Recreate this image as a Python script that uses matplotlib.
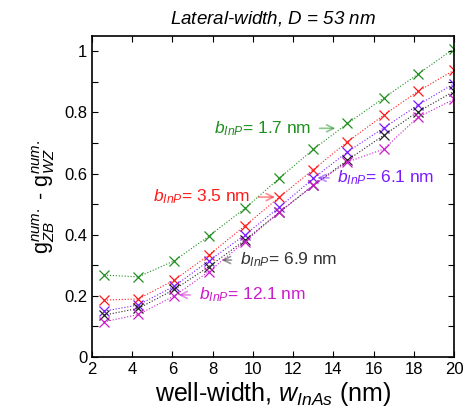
import matplotlib
matplotlib.use("Agg")
import matplotlib.pyplot as plt
import numpy as np

plt.rcParams['font.family'] = ['Liberation Sans', 'DejaVu Sans']
plt.rcParams['mathtext.fontset'] = 'custom'
plt.rcParams['mathtext.rm'] = 'Liberation Sans'
plt.rcParams['mathtext.it'] = 'Liberation Sans:italic'
plt.rcParams['mathtext.bf'] = 'Liberation Sans:bold'

# Data
well_width = [2.6, 4.3, 6.1, 7.8, 9.6, 11.3, 13.0, 14.7, 16.5, 18.2, 20.0]
g_b17 = [0.268, 0.262, 0.315, 0.395, 0.486, 0.584, 0.679, 0.764, 0.847, 0.925, 1.009]
g_b35 = [0.186, 0.190, 0.252, 0.333, 0.429, 0.522, 0.613, 0.704, 0.791, 0.869, 0.938]
g_b61 = [0.150, 0.170, 0.232, 0.314, 0.399, 0.489, 0.584, 0.671, 0.749, 0.824, 0.894]
g_b69 = [0.137, 0.159, 0.221, 0.295, 0.382, 0.473, 0.561, 0.644, 0.725, 0.802, 0.869]
g_b121 = [0.115, 0.139, 0.200, 0.279, 0.377, 0.473, 0.562, 0.638, 0.680, 0.784, 0.843]

series = [
    (g_b17, '#1f8f1f', '1.7'),
    (g_b35, '#ff1a1a', '3.5'),
    (g_b61, '#7a1aff', '6.1'),
    (g_b69, '#222222', '6.9'),
    (g_b121, '#cc1acc', '12.1'),
]

fig = plt.figure(figsize=(4.73, 4.17), dpi=100)
ax = fig.add_axes([0.1945, 0.1439, 0.7655, 0.7698])

for vals, col, lab in series:
    ax.plot(well_width, vals, linestyle=':', color=col, linewidth=0.8)
    ax.plot(well_width, vals, linestyle='none', marker='x', color=col,
            markersize=7, markeredgewidth=0.9)

ax.set_xlim(2, 20)
ax.set_ylim(0, 1.05)
ax.set_xticks(np.arange(2, 21, 2))
yt = np.round(np.arange(0, 1.01, 0.1), 1)
ax.set_yticks(yt)
ax.set_yticklabels(['0' if abs(v) < 1e-9 else ('1' if abs(v-1) < 1e-9 else (f'{v:.1f}' if int(round(v*10)) % 2 == 0 else '')) for v in yt])
ax.tick_params(direction='in', top=True, right=True, labelsize=12, length=4, width=0.8)
for s in ax.spines.values():
    s.set_linewidth(1.2)

ax.set_title('Lateral-width, $D$ = 53 nm', fontsize=13.5, style='italic', pad=9)
ax.set_xlabel('well-width, $w_{InAs}$ (nm)', fontsize=18, labelpad=2)
ax.set_ylabel(r'g$^{num.}_{ZB}$ - g$^{num.}_{WZ}$', fontsize=15.5, labelpad=5)

ann = [
    ('1.7', '#1f8f1f', (14.1, 0.748), (12.9, 0.748), 'right'),
    ('3.5', '#ff1a1a', (11.1, 0.523), (9.85, 0.523), 'right'),
    ('6.1', '#7a1aff', (13.2, 0.586), (14.2, 0.586), 'left'),
    ('6.9', '#333333', (8.45, 0.317), (9.35, 0.317), 'left'),
    ('12.1', '#cc1acc', (6.3, 0.203), (7.3, 0.203), 'left'),
]
for lab, col, xy, xytext, ha in ann:
    ax.annotate('$b_{InP}$= ' + lab + ' nm', xy=xy, xytext=xytext,
                color=col, fontsize=12.5, ha=ha, va='center',
                arrowprops=dict(arrowstyle='->', color=col, alpha=0.5, lw=1.2,
                                shrinkA=4, shrinkB=0))

fig.savefig('out.png', dpi=100)
